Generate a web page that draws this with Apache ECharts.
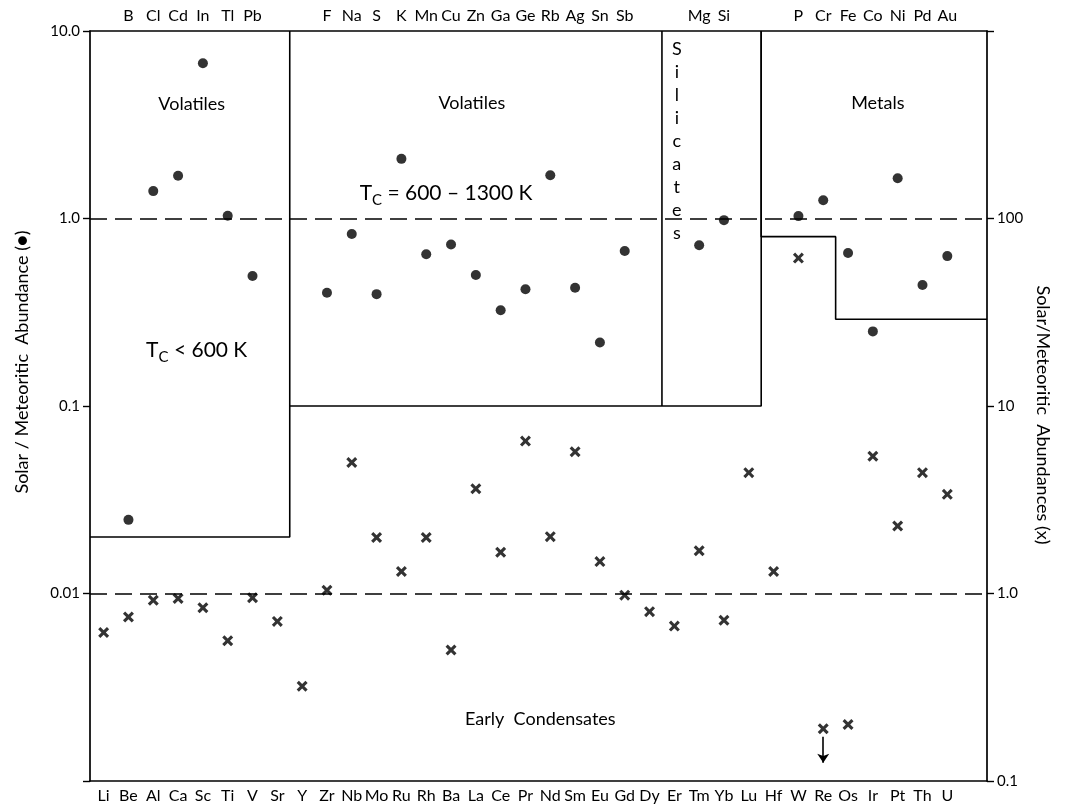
<!DOCTYPE html>
<html><head><meta charset="utf-8">
<script src="https://cdn.jsdelivr.net/npm/echarts@6/dist/echarts.min.js"></script>
<style>html,body{margin:0;padding:0;background:#fff}#c{width:1067px;height:805px}</style>
</head><body><div id="c"></div>
<script>
// bottom (x) elements: position index = array index
const bottomLabels = ['Li','Be','Al','Ca','Sc','Ti','V','Sr','Y','Zr','Nb','Mo','Ru','Rh','Ba','La','Ce','Pr','Nd','Sm','Eu','Gd','Dy','Er','Tm','Yb','Lu','Hf','W','Re','Os','Ir','Pt','Th','U'];
// crosses, read on right axis (Solar/Meteoritic Abundances (x))
const crossValues = [0.62,0.75,0.92,0.94,0.84,0.56,0.95,0.71,0.32,1.04,5.0,1.99,1.31,1.99,0.50,3.62,1.66,6.5,2.01,5.7,1.48,0.98,0.80,0.67,1.69,0.72,4.41,1.31,61.5,0.19,0.20,5.4,2.29,4.41,3.38];
// top (dot) elements and their position index
const topLabels = ['B','Cl','Cd','In','Tl','Pb','F','Na','S','K','Mn','Cu','Zn','Ga','Ge','Rb','Ag','Sn','Sb','Mg','Si','P','Cr','Fe','Co','Ni','Pd','Au'];
const topIndex  = [1,2,3,4,5,6,9,10,11,12,13,14,15,16,17,18,19,20,21,24,25,28,29,30,31,32,33,34];
// dots, read on left axis (Solar/Meteoritic Abundance (●))
const dotValues = [0.0247,1.40,1.69,6.73,1.035,0.494,0.402,0.826,0.395,2.08,0.644,0.727,0.50,0.324,0.419,1.70,0.427,0.218,0.671,0.72,0.98,1.03,1.25,0.655,0.25,1.64,0.442,0.63];
// axis tick labels
const leftTickValues = [0.01, 0.1, 1, 10];
const leftTickText = ['0.01','0.1','1.0','10.0'];
const rightTickValues = [0.1, 1, 10, 100];
const rightTickText = ['0.1','1.0','10','100'];
// Re upper limit arrow (right-axis units)
const reArrow = [0.172, 0.125];
// region boundaries in data space (x = position index, y = left-axis value)
const volatilesLowBox = [[-0.55,0.02],[7.5,0.02],[7.5,10]];
const volatilesMidBox = [[7.5,0.1],[26.5,0.1],[26.5,10]];
const silicatesLeft   = [[22.5,10],[22.5,0.1]];
const metalsBox       = [[26.5,10],[26.5,0.8],[29.5,0.8],[29.5,0.29],[35.6,0.29]];
const refLines = [1, 0.01];

const XMIN = -0.55, XMAX = 35.6;
const FONT = 'Lato';
const INK = '#000';
const crossPath = 'path://M0,2 L2,0 L5,3 L8,0 L10,2 L7,5 L10,8 L8,10 L5,7 L2,10 L0,8 L3,5 Z';

const chart = echarts.init(document.getElementById('c'), null, {renderer:'canvas'});

function boxSeries(data){
  return {type:'line', data:data, xAxisIndex:0, yAxisIndex:0, symbol:'none', silent:true,
    lineStyle:{color:INK, width:1.6}, z:2, animation:false};
}
const axisLineStyle = {show:true, onZero:false, lineStyle:{color:INK, width:1.7}};
function tickText(vals, texts){
  return v => { for (let i=0;i<vals.length;i++){ if (Math.abs(Math.log10(v)-Math.log10(vals[i]))<1e-6) return texts[i]; } return ''; };
}

const option = {
  animation:false,
  backgroundColor:'#fff',
  grid:{left:90, right:80, top:31, bottom:24, containLabel:false},
  xAxis:[
    {type:'value', position:'bottom', min:XMIN, max:XMAX,
     axisLine:axisLineStyle, axisTick:{show:false}, splitLine:{show:false},
     axisLabel:{customValues: bottomLabels.map((_,i)=>i), formatter:v=>bottomLabels[Math.round(v)]||'',
       color:INK, fontFamily:FONT, fontSize:16, margin:7}},
    {type:'value', position:'top', min:XMIN, max:XMAX,
     axisLine:axisLineStyle, axisTick:{show:false}, splitLine:{show:false},
     axisLabel:{customValues: topIndex, formatter:v=>{const k=topIndex.indexOf(Math.round(v));return k>=0?topLabels[k]:'';},
       color:INK, fontFamily:FONT, fontSize:16, margin:7}}
  ],
  yAxis:[
    {type:'log', logBase:10, min:0.001, max:10, position:'left',
     axisLine:axisLineStyle,
     axisTick:{show:true, inside:false, length:7, lineStyle:{color:INK, width:1.4}},
     splitLine:{show:false}, minorTick:{show:false},
     axisLabel:{customValues:leftTickValues, formatter:tickText(leftTickValues, leftTickText),
       color:INK, fontFamily:FONT, fontSize:15, margin:10}},
    {type:'log', logBase:10, min:0.1, max:1000, position:'right',
     axisLine:axisLineStyle,
     axisTick:{show:true, inside:false, length:7, lineStyle:{color:INK, width:1.4}},
     splitLine:{show:false},
     axisLabel:{customValues:rightTickValues, formatter:tickText(rightTickValues, rightTickText),
       color:INK, fontFamily:FONT, fontSize:15, margin:10}}
  ],
  series:[
    boxSeries(volatilesLowBox),
    boxSeries(volatilesMidBox),
    boxSeries(silicatesLeft),
    boxSeries(metalsBox),
    {type:'scatter', name:'dots', xAxisIndex:0, yAxisIndex:0,
     data: dotValues.map((v,k)=>[topIndex[k], v]),
     symbol:'circle', symbolSize:10, itemStyle:{color:INK}, z:5,
     markLine:{silent:true, symbol:'none', label:{show:false},
       lineStyle:{color:INK, width:1.5, type:[17,8]},
       data: refLines.map(v=>({yAxis:v}))}},
    {type:'scatter', name:'crosses', xAxisIndex:0, yAxisIndex:1,
     data: crossValues.map((v,i)=>[i, v]),
     symbol:crossPath, symbolSize:11, itemStyle:{color:INK}, z:5,
     markLine:{silent:true, symbol:['none','arrow'], symbolSize:9, label:{show:false},
       lineStyle:{color:INK, width:1.6, type:'solid'},
       data:[[{coord:[bottomLabels.indexOf('Re'), reArrow[0]]},{coord:[bottomLabels.indexOf('Re'), reArrow[1]]}]]}}
  ]
};
chart.setOption(option);

// annotations anchored in data space
function px(x, y){ return chart.convertToPixel({xAxisIndex:0, yAxisIndex:0}, [x, y]); }
const txt = {fill:INK, fontFamily:FONT};
const g = [];
function label(x, y, text, size){
  const p = px(x, y);
  g.push({type:'text', x:p[0], y:p[1], style:Object.assign({text:text, fontSize:size, align:'center', verticalAlign:'middle'}, txt)});
}
label(3.55, 4.08, 'Volatiles', 18);
label(14.84, 4.13, 'Volatiles', 18);
label(31.2, 4.13, 'Metals', 18);
label(17.6, 0.00214, 'Early  Condensates', 18);
(function(){
  const p = px(13.8, 1.37);
  g.push({type:'text', x:p[0], y:p[1], style:{text:'{t|T}{s|C}{t| = 600 – 1300 K}', align:'center', verticalAlign:'middle',
    rich:{t:{fontSize:21, fontFamily:FONT, fill:INK}, s:{fontSize:15, fontFamily:FONT, fill:INK, padding:[14,0,0,0]}}}});
  const q = px(3.75, 0.199);
  g.push({type:'text', x:q[0], y:q[1], style:{text:'{t|T}{s|C}{t| < 600 K}', align:'center', verticalAlign:'middle',
    rich:{t:{fontSize:21, fontFamily:FONT, fill:INK}, s:{fontSize:15, fontFamily:FONT, fill:INK, padding:[14,0,0,0]}}}});
  const s = px(23.1, 2.6);
  g.push({type:'text', x:s[0], y:s[1], style:{text:'S\ni\nl\ni\nc\na\nt\ne\ns', fontSize:18, lineHeight:23, align:'center', verticalAlign:'middle', fill:INK, fontFamily:FONT}});
})();
g.push({type:'text', x:22, y:362, rotation:Math.PI/2, style:{text:'Solar / Meteoritic  Abundance (●)', fontSize:18, align:'center', verticalAlign:'middle', fill:INK, fontFamily:FONT}});
g.push({type:'text', x:1043, y:415, rotation:-Math.PI/2, style:{text:'Solar/Meteoritic  Abundances (x)', fontSize:18, align:'center', verticalAlign:'middle', fill:INK, fontFamily:FONT}});
chart.setOption({graphic:g});
</script></body></html>
